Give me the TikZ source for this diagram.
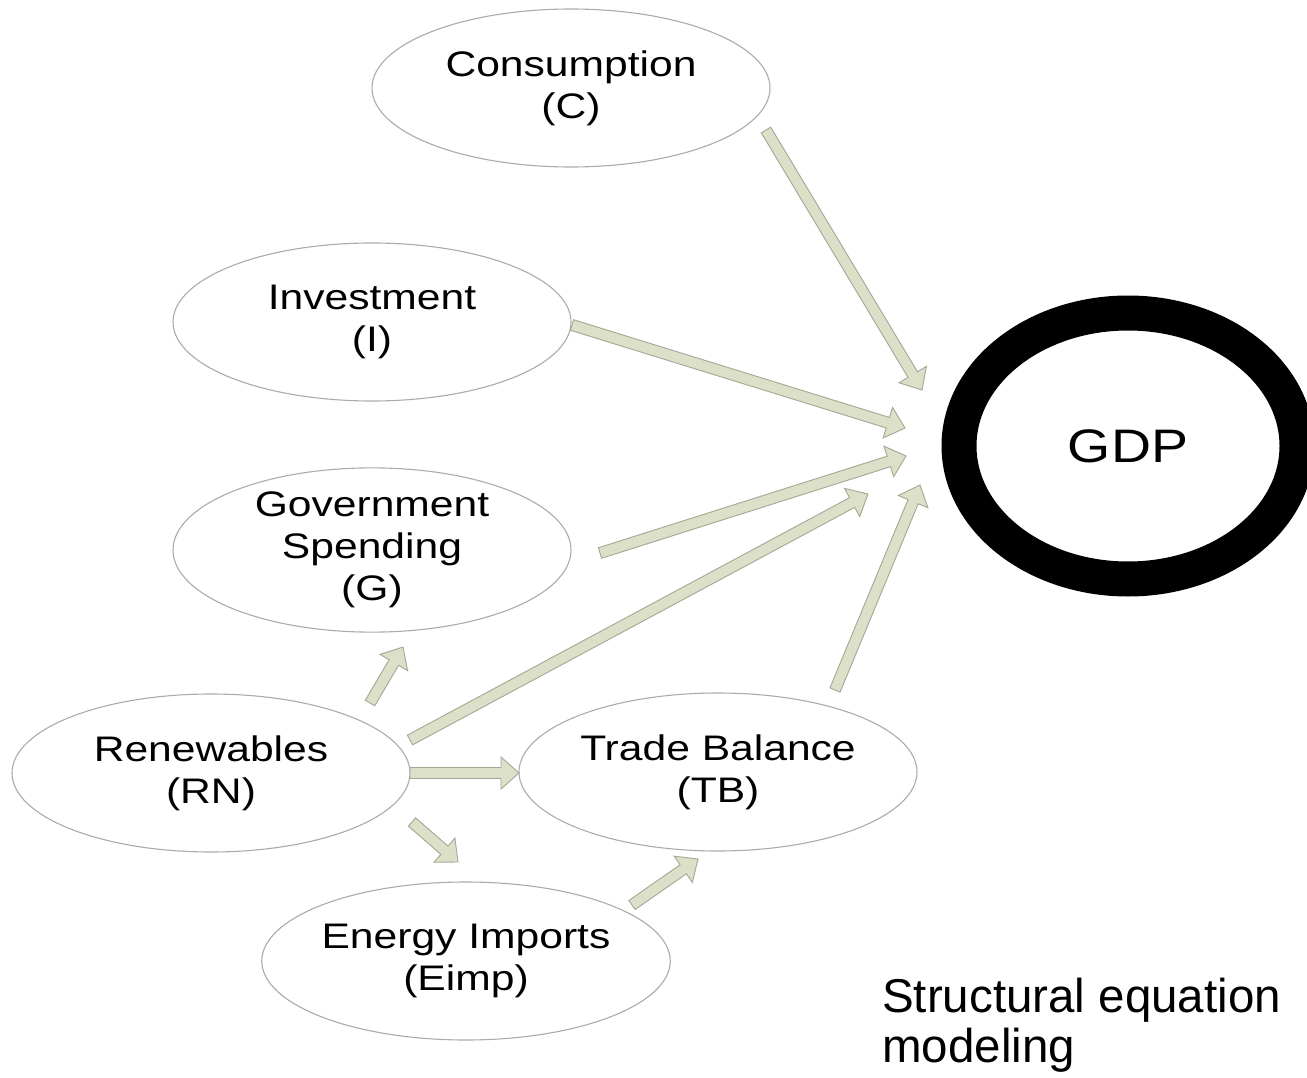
\documentclass[tikz,border=0pt]{standalone}
\usepackage{fontspec}
\setmainfont{Liberation Sans}
\newfontfamily\nodefont[FakeStretch=1.2]{Liberation Sans}
\newfontfamily\gdpfont[FakeStretch=1.18]{Liberation Sans}
\usetikzlibrary{shapes.geometric,calc}
\definecolor{arrfill}{HTML}{DCE0C8}
\definecolor{arrline}{HTML}{A4A794}
\definecolor{ellline}{HTML}{ABABAB}
\tikzset{
  varnode/.style={draw=ellline, line width=1.1pt, ellipse, fill=white, inner sep=0pt,
    minimum width=398pt, minimum height=158pt, align=center,
    font=\nodefont\fontsize{35.5}{42}\selectfont},
  gdpnode/.style={draw=black, line width=35pt, ellipse, inner sep=0pt,
    minimum width=338pt, minimum height=266pt, font=\gdpfont\fontsize{47}{50}\selectfont},
  blockarrowsty/.style={draw=arrline, fill=arrfill, line width=0.9pt, line join=miter},
}
\newcommand\blockarrow[2]{%
  \coordinate (ba-b) at ($(#2)!18pt!(#1)$);
  \draw[blockarrowsty] ($(#1)!5.5pt!90:(#2)$) -- ($(ba-b)!5.5pt!-90:(#1)$)
    -- ($(ba-b)!16pt!-90:(#1)$) -- (#2) -- ($(ba-b)!16pt!90:(#1)$)
    -- ($(ba-b)!5.5pt!90:(#1)$) -- ($(#1)!5.5pt!-90:(#2)$) -- cycle;}
\begin{document}
\begin{tikzpicture}[x=1pt,y=-1pt]
\useasboundingbox[fill=white] (0,0) rectangle (1307,1078);

% nodes
\node[varnode] (C)  at (571,88)  {Consumption\\(C)};
\node[varnode] (I)  at (372,322) {Investment\\(I)};
\node[varnode] (G)  at (372,550) {Government\\Spending\\(G)};
\node[varnode] (RN) at (211,773) {Renewables\\(RN)};
\node[varnode] (TB) at (718,772) {Trade Balance\\(TB)};
\node[varnode] (EI) at (466,961) {Energy Imports\\(Eimp)};
\node[gdpnode] (GDP) at (1128,446) {GDP};

\node[anchor=north west, inner sep=0pt, align=left,
      font=\fontsize{47.5}{50}\selectfont] (cap) at (882,978) {Structural equation\\modeling};

% connector end points
\coordinate (C-t)  at (766,130);  \coordinate (C-h)  at (922,390);
\coordinate (I-t)  at (572,325);  \coordinate (I-h)  at (905,428);
\coordinate (G-t)  at (600,553);  \coordinate (G-h)  at (906,456);
\coordinate (RG-t) at (410,740);  \coordinate (RG-h) at (868,494);
\coordinate (TB-t) at (835,690);  \coordinate (TB-h) at (920,485);
\coordinate (RN-G-t) at (370,703); \coordinate (RN-G-h) at (403,647);
\coordinate (RN-TB-t) at (410,773); \coordinate (RN-TB-h) at (519,773);
\coordinate (RN-EI-t) at (412,822); \coordinate (RN-EI-h) at (458,862);
\coordinate (EI-TB-t) at (632,905); \coordinate (EI-TB-h) at (698,859);

% connectors
\blockarrow{C-t}{C-h}
\blockarrow{I-t}{I-h}
\blockarrow{G-t}{G-h}
\blockarrow{RG-t}{RG-h}
\blockarrow{TB-t}{TB-h}
\blockarrow{RN-G-t}{RN-G-h}
\blockarrow{RN-TB-t}{RN-TB-h}
\blockarrow{RN-EI-t}{RN-EI-h}
\blockarrow{EI-TB-t}{EI-TB-h}
\end{tikzpicture}
\end{document}
